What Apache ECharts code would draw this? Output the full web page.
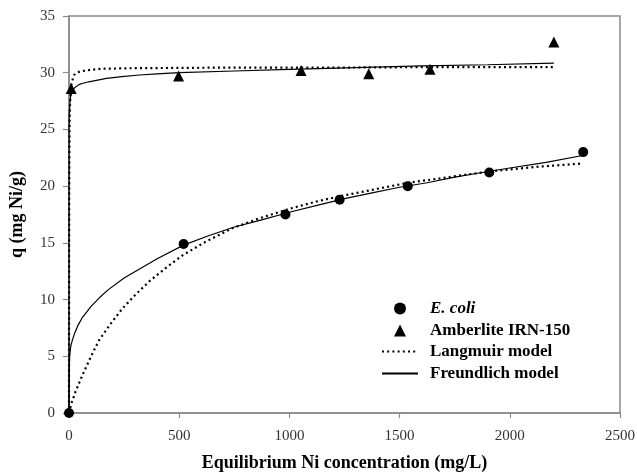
<!doctype html>
<html>
<head>
    <meta charset="utf-8">
    <title>Ni sorption isotherms</title>
    <style>
        html, body { margin: 0; padding: 0; background: #fff; }
        #chart { width: 637px; height: 473px; }
    </style>
</head>
<body>
<div id="chart"></div>
<script src="https://cdn.jsdelivr.net/npm/echarts@6/dist/echarts.min.js"></script>
<script>
    // measured points
    var ecoliX = [0, 520, 982, 1228, 1537, 1907, 2333];
    var ecoliY = [0, 14.9, 17.5, 18.8, 20.0, 21.2, 23.0];
    var amberX = [10, 497, 1053, 1360, 1638, 2200];
    var amberY = [28.6, 29.7, 30.2, 29.9, 30.3, 32.7];

    // model curves
    var langEcoliX = [0, 10, 30, 60, 100, 136, 190, 242, 300, 364, 440, 515, 620, 742, 870, 1000, 1113, 1226, 1383, 1540, 1725, 1910, 2120, 2330];
    var langEcoliY = [0, 0.8, 1.9, 3.3, 5.0, 6.4, 7.9, 9.2, 10.4, 11.6, 12.8, 13.9, 15.1, 16.3, 17.2, 18.0, 18.6, 19.1, 19.7, 20.3, 20.8, 21.3, 21.7, 22.0];
    var freuEcoliX = [0, 1, 3, 8, 15, 25, 40, 60, 80, 100, 140, 180, 250, 320, 400, 520, 630, 750, 870, 1000, 1125, 1250, 1375, 1500, 1625, 1750, 1875, 2000, 2165, 2330];
    var freuEcoliY = [0, 3.8, 5.0, 5.9, 6.4, 7.0, 7.7, 8.4, 8.9, 9.4, 10.2, 10.9, 11.9, 12.7, 13.6, 14.8, 15.6, 16.4, 17.0, 17.7, 18.3, 18.9, 19.4, 19.9, 20.3, 20.8, 21.2, 21.6, 22.1, 22.7];
    var langAmberX = [0, 0.5, 1, 2, 3, 5, 10, 15, 23, 35, 50, 76, 150, 300, 700, 1200, 1700, 2200];
    var langAmberY = [0, 14.8, 19.6, 23.9, 25.8, 27.5, 28.9, 29.3, 29.8, 30.0, 30.1, 30.2, 30.35, 30.4, 30.45, 30.45, 30.5, 30.5];
    var freuAmberX = [0, 0.2, 1, 5, 10, 20, 30, 45, 60, 90, 130, 170, 240, 320, 400, 500, 750, 1000, 1300, 1600, 1900, 2200];
    var freuAmberY = [0, 25.0, 26.3, 27.6, 28.2, 28.55, 28.75, 28.95, 29.05, 29.2, 29.35, 29.5, 29.65, 29.8, 29.9, 30.0, 30.15, 30.3, 30.45, 30.6, 30.7, 30.85];

    var markerNames = ['E. coli', 'Amberlite IRN-150'];
    var modelNames = ['Langmuir model', 'Freundlich model'];

    function pairs(xs, ys) {
        var out = [];
        for (var i = 0; i < xs.length; i++) out.push([xs[i], ys[i]]);
        return out;
    }

    var serif = '"Liberation Serif", "Times New Roman", serif';
    var axisGray = '#8a8a8a';

    var chart = echarts.init(document.getElementById('chart'));

    function curve(name, xs, ys, dotted) {
        return {
            name: name,
            type: 'line',
            data: pairs(xs, ys),
            symbol: 'none',
            smooth: false,
            z: 2,
            itemStyle: { color: '#000' },
            lineStyle: dotted
                ? { color: '#000', width: 2.2, type: [2, 3.2] }
                : { color: '#000', width: 1.2, type: 'solid' }
        };
    }

    var legendText = {
        fontFamily: serif,
        fontWeight: 'bold',
        fontSize: 17,
        color: '#000',
        rich: {
            i: { fontFamily: serif, fontWeight: 'bold', fontStyle: 'italic', fontSize: 17, color: '#000' }
        }
    };

    var option = {
        animation: false,
        backgroundColor: '#fff',
        grid: {
            left: 69, right: 17, top: 16, bottom: 60,
            outerBoundsMode: 'none',
            containLabel: false,
            show: true,
            borderColor: axisGray,
            borderWidth: 1.5
        },
        legend: [{
            // marker entries: small square box so symbols keep their shape
            orient: 'vertical',
            left: 389,
            top: 295,
            itemWidth: 12,
            itemHeight: 12,
            itemGap: 5,
            data: markerNames,
            formatter: function (name) {
                return name === 'E. coli' ? '{i|' + name + '}' : name;
            },
            textStyle: Object.assign({ padding: [0, 0, 0, 19] }, legendText)
        }, {
            orient: 'vertical',
            left: 376,
            top: 338,
            itemWidth: 36,
            itemHeight: 12,
            itemGap: 5,
            data: [
                { name: modelNames[0], itemStyle: { opacity: 0 } },
                { name: modelNames[1], itemStyle: { opacity: 0 } }
            ],
            textStyle: Object.assign({ padding: [0, 0, 0, 7] }, legendText)
        }],
        xAxis: {
            type: 'value',
            min: 0, max: 2500, interval: 500,
            name: 'Equilibrium Ni concentration (mg/L)',
            nameLocation: 'middle',
            nameGap: 41,
            nameTextStyle: { fontFamily: serif, fontWeight: 'bold', fontSize: 18, color: '#000' },
            axisLine: { show: true, lineStyle: { color: axisGray, width: 1.5 } },
            axisTick: { show: true, length: 5, lineStyle: { color: axisGray, width: 1.2 } },
            axisLabel: {
                fontFamily: serif, fontSize: 15, color: '#333', margin: 16,
                formatter: function (v) { return String(v); }
            },
            splitLine: { show: false }
        },
        yAxis: {
            type: 'value',
            min: 0, max: 35, interval: 5,
            name: 'q (mg Ni/g)',
            nameLocation: 'middle',
            nameGap: 43,
            nameTextStyle: { fontFamily: serif, fontWeight: 'bold', fontSize: 18, color: '#000' },
            axisLine: { show: true, lineStyle: { color: axisGray, width: 1.5 } },
            axisTick: { show: true, length: 6, lineStyle: { color: axisGray, width: 1.2 } },
            axisLabel: {
                fontFamily: serif, fontSize: 15, color: '#333', margin: 14,
                formatter: function (v) { return String(v); }
            },
            splitLine: { show: false }
        },
        series: [
            curve(modelNames[0], langEcoliX, langEcoliY, true),
            curve(modelNames[1], freuEcoliX, freuEcoliY, false),
            curve(modelNames[0], langAmberX, langAmberY, true),
            curve(modelNames[1], freuAmberX, freuAmberY, false),
            {
                name: markerNames[0],
                type: 'scatter',
                data: pairs(ecoliX, ecoliY),
                symbol: 'circle',
                symbolSize: 10,
                itemStyle: { color: '#000', opacity: 1 },
                z: 3
            },
            {
                name: markerNames[1],
                type: 'scatter',
                data: pairs(amberX, amberY),
                symbol: 'triangle',
                symbolSize: 11,
                itemStyle: { color: '#000', opacity: 1 },
                z: 3
            }
        ]
    };
    chart.setOption(option);
</script>
</body>
</html>
